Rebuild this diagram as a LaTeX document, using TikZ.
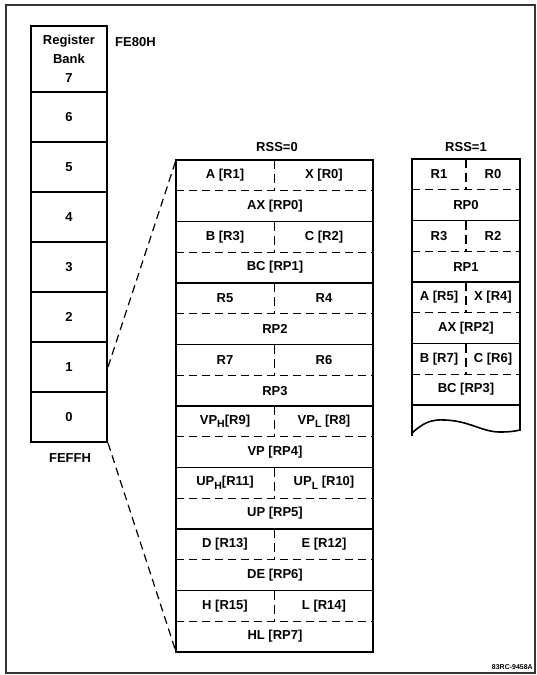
\documentclass[tikz,border=0pt]{standalone}
\usepackage{fontspec}
\setmainfont{Liberation Sans}
\usetikzlibrary{calc}

\newcommand\lowsub[1]{\raisebox{-3.5pt}{\fontsize{10.5}{11}\selectfont #1}}

\tikzset{
  bankcell/.style={draw,line width=2pt,minimum width=76pt,inner sep=0pt},
  regtext/.style={inner sep=0pt,font=\fontsize{13}{15}\selectfont\bfseries},
  halfline/.style={dashed,line width=1.3pt,dash pattern=on 8pt off 5pt},
  rowline/.style={line width=1.4pt},
  tabedge/.style={line width=2pt},
}

\begin{document}
\begin{tikzpicture}[x=1pt,y=-1pt]
\useasboundingbox (0,0) rectangle (537,675);
\draw[line width=1.2pt,black!80] (6,5) rectangle (535,673);

% register banks
\node[bankcell,minimum height=66pt,align=center,font=\fontsize{13}{19}\selectfont\bfseries]
  (bank7) at (69,59) {Register\\Bank\\7};
\foreach \b [count=\i from 0] in {6,5,4,3,2,1,0}
  \node[bankcell,minimum height=50pt,regtext] (bank\b) at (69,117+50*\i) {\b};
\node[regtext,anchor=west] (top) at (115,42) {FE80H};
\node[regtext] (bottom) at (70,458) {FEFFH};

% RSS=0
\def\h{30.75}
\node[regtext] (rss0) at (277,147) {RSS=0};
\foreach \hi/\lo/\pr [count=\k from 0] in
  {A [R1]/X [R0]/AX [RP0], B [R3]/C [R2]/BC [RP1], R5/R4/RP2, R7/R6/RP3,
   VP\lowsub{H}[R9]/VP\lowsub{L} [R8]/VP [RP4],
   UP\lowsub{H}[R11]/UP\lowsub{L} [R10]/UP [RP5],
   D [R13]/E [R12]/DE [RP6], H [R15]/L [R14]/HL [RP7]}
{
  \pgfmathsetmacro\ya{160+2*\k*\h}
  \pgfmathsetmacro\yb{160+(2*\k+1)*\h}
  \pgfmathsetmacro\yc{160+(2*\k+2)*\h}
  \node[regtext] (zhi\k) at (225,\ya+\h/2) {\hi};
  \node[regtext] (zlo\k) at (324,\ya+\h/2) {\lo};
  \node[regtext] (zpr\k) at (275,\yb+\h/2) {\pr};
  \draw[halfline,dash pattern=on 9pt off 5pt] (274.5,\ya) -- (274.5,\yb);
  \draw[halfline] (176,\yb) -- (373,\yb);
  \draw[rowline] (176,\yc) -- (373,\yc);
}
\draw[tabedge] (176,160) rectangle (373,652);
\coordinate (rss0nw) at (176,160);
\coordinate (rss0sw) at (176,652);

% RSS=1
\node[regtext] (rss1) at (466,147) {RSS=1};
\foreach \hi/\lo/\pr [count=\k from 0] in
  {R1/R0/RP0, R3/R2/RP1, A [R5]/X [R4]/AX [RP2], B [R7]/C [R6]/BC [RP3]}
{
  \pgfmathsetmacro\ya{159+2*\k*\h}
  \pgfmathsetmacro\yb{159+(2*\k+1)*\h}
  \pgfmathsetmacro\yc{159+(2*\k+2)*\h}
  \node[regtext] (ohi\k) at (439,\ya+\h/2) {\hi};
  \node[regtext] (olo\k) at (493,\ya+\h/2) {\lo};
  \node[regtext] (opr\k) at (466,\yb+\h/2) {\pr};
  \draw[halfline,dash pattern=on 9pt off 5pt] (466,\ya) -- (466,\yb);
  \draw[halfline] (412,\yb) -- (520,\yb);
  \draw[rowline] (412,\yc) -- (520,\yc);
}
\draw[tabedge] (412,436) -- (412,159) -- (520,159) -- (520,431);
\draw[line width=1.6pt] (412,433) .. controls (422,424) and (430,419) .. (445,420)
  .. controls (470,421) and (482,432) .. (500,432) .. controls (510,432) and (516,431) .. (520,430);

% zoom lines
\draw[halfline,line width=1.2pt] (bank1.east) -- (rss0nw);
\draw[halfline,line width=1.2pt] (bank0.south east) -- (rss0sw);

\node[inner sep=0pt,font=\fontsize{7}{8}\selectfont\bfseries,anchor=east] (code) at (533,667) {83RC-9458A};
\end{tikzpicture}
\end{document}
